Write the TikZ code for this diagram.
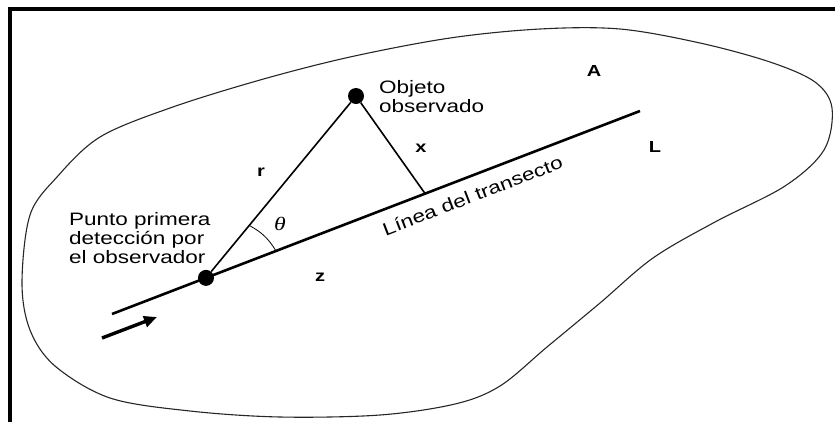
\documentclass[tikz,border=0pt]{standalone}
\usepackage{fontspec}
\setmainfont{Liberation Sans}[FakeStretch=1.25]
\newfontfamily\griega{Liberation Serif}[FakeStretch=1.25]
\usetikzlibrary{calc,arrows.meta}

\begin{document}
\begin{tikzpicture}[x=1pt,y=-1pt,
  punto/.style={circle,fill=black,inner sep=0pt,minimum size=16pt},
  texto/.style={font=\fontsize{18}{19}\selectfont,align=left,inner sep=0pt},
  letra/.style={font=\fontsize{16}{16}\selectfont\bfseries,inner sep=0pt}
]
  \useasboundingbox (0,0) rectangle (835,421);
  \draw[line width=4pt] (9.5,450) -- (9.5,9) -- (860,9);
  % area A
  \draw[black!85,line width=1.1pt] plot[smooth cycle,tension=0.55] coordinates {
    (22,283) (30,215) (57,177) (100,137) (170,108) (260,80) (350,57)
    (450,38) (540,29) (620,29) (700,43) (770,62) (815,82) (832,108)
    (824,150) (785,186) (715,222) (653,258) (600,303) (547,347)
    (500,386) (455,404) (380,415) (280,417) (190,411) (110,398)
    (55,366) (30,330)};
  % linea del transecto
  \coordinate (ts) at (112,314);
  \coordinate (te) at (640,111);
  \coordinate (pie) at ($(ts)!0.593!(te)$);
  \node[punto] (obs) at ($(ts)!0.178!(te)$) {};
  \node[punto] (obj) at (356,96) {};
  \draw[line width=2.6pt] (ts) -- (te);
  \draw[line width=1.6pt] (obs) -- (obj) -- (pie);
  \path (ts) -- (te) node[texto,sloped,pos=0.67,below=12pt] (linea) {Línea del transecto};
  % angulo
  \coordinate (a1) at ($(obs)!68pt!(obj)$);
  \coordinate (a2) at ($(obs)!75pt!(te)$);
  \draw[line width=0.8pt] (a1) to[bend left=15] (a2);
  \node[font=\fontsize{19}{19}\selectfont\griega\itshape,inner sep=0pt] (th) at (280,224) {θ};
  % flecha
  \coordinate (fa) at (102,338);
  \coordinate (fb) at (157,317);
  \draw[line width=3.4pt,-{Triangle[length=13pt,width=11pt]}] (fa) -- (fb);
  % textos
  \node[texto,anchor=west] (objeto) at (379,97) {Objeto\\observado};
  \node[texto,anchor=west] (punto) at (69,238) {Punto primera\\detección por\\el observador};
  \node[letra] (A) at (594,71) {A};
  \node[letra] (L) at (655,147) {L};
  \node[letra] (x) at (421,148) {x};
  \node[letra] (r) at (261,172) {r};
  \node[letra] (z) at (320,277) {z};
\end{tikzpicture}
\end{document}
